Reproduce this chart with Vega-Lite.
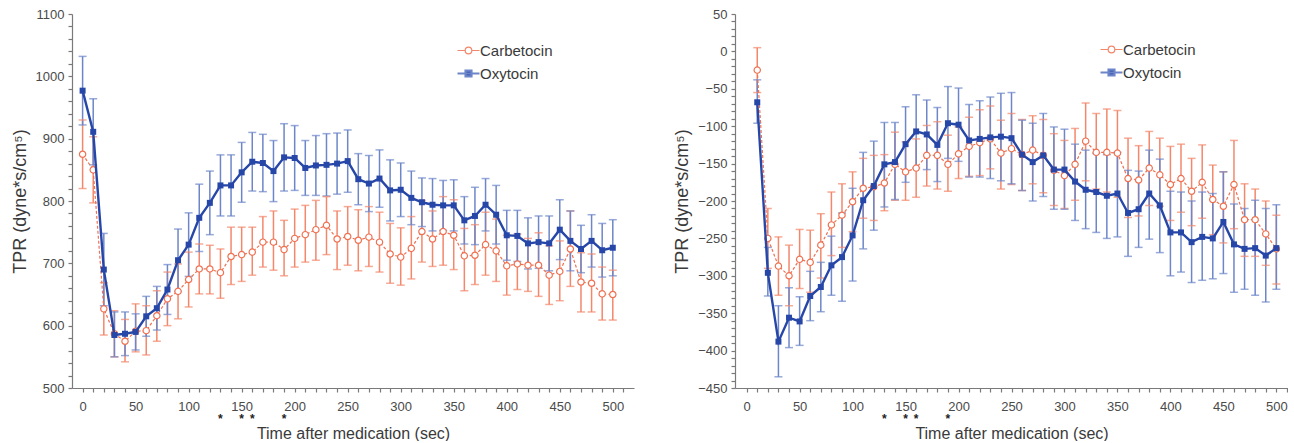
{
  "$schema": "https://vega.github.io/schema/vega-lite/v6.json",
  "background": "white",
  "padding": {"left": 11, "top": 8, "right": 0, "bottom": 0},
  "spacing": 39,
  "datasets": {
    "left": [
      {"drug": "Carbetocin", "t": 0, "mean": 875, "lo": 820, "hi": 930},
      {"drug": "Carbetocin", "t": 10, "mean": 850, "lo": 797, "hi": 903},
      {"drug": "Carbetocin", "t": 20, "mean": 627, "lo": 585, "hi": 669},
      {"drug": "Carbetocin", "t": 30, "mean": 587, "lo": 550, "hi": 624},
      {"drug": "Carbetocin", "t": 40, "mean": 575, "lo": 542, "hi": 610},
      {"drug": "Carbetocin", "t": 50, "mean": 591, "lo": 558, "hi": 635},
      {"drug": "Carbetocin", "t": 60, "mean": 592, "lo": 553, "hi": 632},
      {"drug": "Carbetocin", "t": 70, "mean": 616, "lo": 575, "hi": 656},
      {"drug": "Carbetocin", "t": 80, "mean": 643, "lo": 600, "hi": 686},
      {"drug": "Carbetocin", "t": 90, "mean": 655, "lo": 611, "hi": 699},
      {"drug": "Carbetocin", "t": 100, "mean": 674, "lo": 630, "hi": 718},
      {"drug": "Carbetocin", "t": 110, "mean": 691, "lo": 651, "hi": 731},
      {"drug": "Carbetocin", "t": 120, "mean": 691, "lo": 651, "hi": 729},
      {"drug": "Carbetocin", "t": 130, "mean": 685, "lo": 644, "hi": 723},
      {"drug": "Carbetocin", "t": 140, "mean": 711, "lo": 666, "hi": 758},
      {"drug": "Carbetocin", "t": 150, "mean": 714, "lo": 671, "hi": 758},
      {"drug": "Carbetocin", "t": 160, "mean": 718, "lo": 681, "hi": 758},
      {"drug": "Carbetocin", "t": 170, "mean": 734, "lo": 694, "hi": 775},
      {"drug": "Carbetocin", "t": 180, "mean": 734, "lo": 689, "hi": 784},
      {"drug": "Carbetocin", "t": 190, "mean": 722, "lo": 680, "hi": 769},
      {"drug": "Carbetocin", "t": 200, "mean": 740, "lo": 694, "hi": 787},
      {"drug": "Carbetocin", "t": 210, "mean": 746, "lo": 702, "hi": 793},
      {"drug": "Carbetocin", "t": 220, "mean": 754, "lo": 705, "hi": 801},
      {"drug": "Carbetocin", "t": 230, "mean": 761, "lo": 714, "hi": 807},
      {"drug": "Carbetocin", "t": 240, "mean": 739, "lo": 690, "hi": 784},
      {"drug": "Carbetocin", "t": 250, "mean": 743, "lo": 697, "hi": 791},
      {"drug": "Carbetocin", "t": 260, "mean": 737, "lo": 688, "hi": 786},
      {"drug": "Carbetocin", "t": 270, "mean": 742, "lo": 695, "hi": 791},
      {"drug": "Carbetocin", "t": 280, "mean": 734, "lo": 686, "hi": 782},
      {"drug": "Carbetocin", "t": 290, "mean": 715, "lo": 668, "hi": 764},
      {"drug": "Carbetocin", "t": 300, "mean": 710, "lo": 665, "hi": 757},
      {"drug": "Carbetocin", "t": 310, "mean": 724, "lo": 675, "hi": 775},
      {"drug": "Carbetocin", "t": 320, "mean": 751, "lo": 702, "hi": 801},
      {"drug": "Carbetocin", "t": 330, "mean": 739, "lo": 695, "hi": 784},
      {"drug": "Carbetocin", "t": 340, "mean": 751, "lo": 697, "hi": 807},
      {"drug": "Carbetocin", "t": 350, "mean": 745, "lo": 690, "hi": 802},
      {"drug": "Carbetocin", "t": 360, "mean": 712, "lo": 656, "hi": 756},
      {"drug": "Carbetocin", "t": 370, "mean": 713, "lo": 666, "hi": 762},
      {"drug": "Carbetocin", "t": 380, "mean": 730, "lo": 681, "hi": 782},
      {"drug": "Carbetocin", "t": 390, "mean": 720, "lo": 671, "hi": 771},
      {"drug": "Carbetocin", "t": 400, "mean": 696, "lo": 649, "hi": 745},
      {"drug": "Carbetocin", "t": 410, "mean": 699, "lo": 658, "hi": 747},
      {"drug": "Carbetocin", "t": 420, "mean": 697, "lo": 655, "hi": 740},
      {"drug": "Carbetocin", "t": 430, "mean": 697, "lo": 647, "hi": 749},
      {"drug": "Carbetocin", "t": 440, "mean": 681, "lo": 634, "hi": 728},
      {"drug": "Carbetocin", "t": 450, "mean": 687, "lo": 640, "hi": 736},
      {"drug": "Carbetocin", "t": 460, "mean": 723, "lo": 663, "hi": 784},
      {"drug": "Carbetocin", "t": 470, "mean": 670, "lo": 622, "hi": 717},
      {"drug": "Carbetocin", "t": 480, "mean": 668, "lo": 622, "hi": 715},
      {"drug": "Carbetocin", "t": 490, "mean": 651, "lo": 609, "hi": 694},
      {"drug": "Carbetocin", "t": 500, "mean": 650, "lo": 609, "hi": 689},
      {"drug": "Oxytocin", "t": 0, "mean": 977, "lo": 922, "hi": 1032},
      {"drug": "Oxytocin", "t": 10, "mean": 911, "lo": 858, "hi": 964},
      {"drug": "Oxytocin", "t": 20, "mean": 690, "lo": 632, "hi": 748},
      {"drug": "Oxytocin", "t": 30, "mean": 585, "lo": 550, "hi": 622},
      {"drug": "Oxytocin", "t": 40, "mean": 587, "lo": 552, "hi": 622},
      {"drug": "Oxytocin", "t": 50, "mean": 590, "lo": 561, "hi": 619},
      {"drug": "Oxytocin", "t": 60, "mean": 615, "lo": 583, "hi": 647},
      {"drug": "Oxytocin", "t": 70, "mean": 628, "lo": 593, "hi": 663},
      {"drug": "Oxytocin", "t": 80, "mean": 658, "lo": 618, "hi": 698},
      {"drug": "Oxytocin", "t": 90, "mean": 705, "lo": 655, "hi": 755},
      {"drug": "Oxytocin", "t": 100, "mean": 730, "lo": 679, "hi": 781},
      {"drug": "Oxytocin", "t": 110, "mean": 773, "lo": 719, "hi": 827},
      {"drug": "Oxytocin", "t": 120, "mean": 797, "lo": 746, "hi": 848},
      {"drug": "Oxytocin", "t": 130, "mean": 825, "lo": 776, "hi": 874},
      {"drug": "Oxytocin", "t": 140, "mean": 825, "lo": 776, "hi": 874},
      {"drug": "Oxytocin", "t": 150, "mean": 846, "lo": 798, "hi": 894},
      {"drug": "Oxytocin", "t": 160, "mean": 863, "lo": 816, "hi": 910},
      {"drug": "Oxytocin", "t": 170, "mean": 861, "lo": 815, "hi": 907},
      {"drug": "Oxytocin", "t": 180, "mean": 848, "lo": 799, "hi": 897},
      {"drug": "Oxytocin", "t": 190, "mean": 870, "lo": 816, "hi": 924},
      {"drug": "Oxytocin", "t": 200, "mean": 869, "lo": 817, "hi": 921},
      {"drug": "Oxytocin", "t": 210, "mean": 853, "lo": 809, "hi": 897},
      {"drug": "Oxytocin", "t": 220, "mean": 857, "lo": 809, "hi": 905},
      {"drug": "Oxytocin", "t": 230, "mean": 858, "lo": 808, "hi": 908},
      {"drug": "Oxytocin", "t": 240, "mean": 860, "lo": 811, "hi": 909},
      {"drug": "Oxytocin", "t": 250, "mean": 864, "lo": 814, "hi": 914},
      {"drug": "Oxytocin", "t": 260, "mean": 835, "lo": 794, "hi": 876},
      {"drug": "Oxytocin", "t": 270, "mean": 828, "lo": 783, "hi": 873},
      {"drug": "Oxytocin", "t": 280, "mean": 836, "lo": 790, "hi": 882},
      {"drug": "Oxytocin", "t": 290, "mean": 817, "lo": 768, "hi": 866},
      {"drug": "Oxytocin", "t": 300, "mean": 818, "lo": 775, "hi": 861},
      {"drug": "Oxytocin", "t": 310, "mean": 805, "lo": 762, "hi": 848},
      {"drug": "Oxytocin", "t": 320, "mean": 798, "lo": 759, "hi": 837},
      {"drug": "Oxytocin", "t": 330, "mean": 794, "lo": 752, "hi": 836},
      {"drug": "Oxytocin", "t": 340, "mean": 793, "lo": 753, "hi": 833},
      {"drug": "Oxytocin", "t": 350, "mean": 793, "lo": 752, "hi": 834},
      {"drug": "Oxytocin", "t": 360, "mean": 769, "lo": 731, "hi": 807},
      {"drug": "Oxytocin", "t": 370, "mean": 776, "lo": 730, "hi": 822},
      {"drug": "Oxytocin", "t": 380, "mean": 794, "lo": 752, "hi": 836},
      {"drug": "Oxytocin", "t": 390, "mean": 778, "lo": 731, "hi": 825},
      {"drug": "Oxytocin", "t": 400, "mean": 745, "lo": 705, "hi": 785},
      {"drug": "Oxytocin", "t": 410, "mean": 744, "lo": 703, "hi": 785},
      {"drug": "Oxytocin", "t": 420, "mean": 732, "lo": 691, "hi": 773},
      {"drug": "Oxytocin", "t": 430, "mean": 734, "lo": 692, "hi": 776},
      {"drug": "Oxytocin", "t": 440, "mean": 732, "lo": 688, "hi": 776},
      {"drug": "Oxytocin", "t": 450, "mean": 754, "lo": 706, "hi": 802},
      {"drug": "Oxytocin", "t": 460, "mean": 736, "lo": 688, "hi": 784},
      {"drug": "Oxytocin", "t": 470, "mean": 723, "lo": 685, "hi": 761},
      {"drug": "Oxytocin", "t": 480, "mean": 736, "lo": 694, "hi": 778},
      {"drug": "Oxytocin", "t": 490, "mean": 721, "lo": 678, "hi": 764},
      {"drug": "Oxytocin", "t": 500, "mean": 725, "lo": 680, "hi": 770}
    ],
    "right": [
      {"drug": "Carbetocin", "t": 10, "mean": -25, "lo": -55, "hi": 5},
      {"drug": "Carbetocin", "t": 20, "mean": -250, "lo": -290, "hi": -210},
      {"drug": "Carbetocin", "t": 30, "mean": -287, "lo": -326, "hi": -248},
      {"drug": "Carbetocin", "t": 40, "mean": -300, "lo": -340, "hi": -259},
      {"drug": "Carbetocin", "t": 50, "mean": -278, "lo": -317, "hi": -238},
      {"drug": "Carbetocin", "t": 60, "mean": -282, "lo": -322, "hi": -239},
      {"drug": "Carbetocin", "t": 70, "mean": -259, "lo": -303, "hi": -217},
      {"drug": "Carbetocin", "t": 80, "mean": -232, "lo": -273, "hi": -188},
      {"drug": "Carbetocin", "t": 90, "mean": -219, "lo": -262, "hi": -177},
      {"drug": "Carbetocin", "t": 100, "mean": -201, "lo": -241, "hi": -161},
      {"drug": "Carbetocin", "t": 110, "mean": -183, "lo": -223, "hi": -143},
      {"drug": "Carbetocin", "t": 120, "mean": -181, "lo": -226, "hi": -139},
      {"drug": "Carbetocin", "t": 130, "mean": -176, "lo": -213, "hi": -138},
      {"drug": "Carbetocin", "t": 140, "mean": -151, "lo": -199, "hi": -108},
      {"drug": "Carbetocin", "t": 150, "mean": -161, "lo": -199, "hi": -121},
      {"drug": "Carbetocin", "t": 160, "mean": -156, "lo": -195, "hi": -117},
      {"drug": "Carbetocin", "t": 170, "mean": -139, "lo": -180, "hi": -99},
      {"drug": "Carbetocin", "t": 180, "mean": -139, "lo": -184, "hi": -94},
      {"drug": "Carbetocin", "t": 190, "mean": -151, "lo": -187, "hi": -112},
      {"drug": "Carbetocin", "t": 200, "mean": -137, "lo": -170, "hi": -101},
      {"drug": "Carbetocin", "t": 210, "mean": -127, "lo": -167, "hi": -88},
      {"drug": "Carbetocin", "t": 220, "mean": -122, "lo": -166, "hi": -78},
      {"drug": "Carbetocin", "t": 230, "mean": -117, "lo": -157, "hi": -73},
      {"drug": "Carbetocin", "t": 240, "mean": -136, "lo": -184, "hi": -92},
      {"drug": "Carbetocin", "t": 250, "mean": -130, "lo": -178, "hi": -83},
      {"drug": "Carbetocin", "t": 260, "mean": -138, "lo": -186, "hi": -91},
      {"drug": "Carbetocin", "t": 270, "mean": -132, "lo": -177, "hi": -86},
      {"drug": "Carbetocin", "t": 280, "mean": -139, "lo": -189, "hi": -91},
      {"drug": "Carbetocin", "t": 290, "mean": -159, "lo": -206, "hi": -110},
      {"drug": "Carbetocin", "t": 300, "mean": -166, "lo": -210, "hi": -119},
      {"drug": "Carbetocin", "t": 310, "mean": -151, "lo": -199, "hi": -103},
      {"drug": "Carbetocin", "t": 320, "mean": -120, "lo": -173, "hi": -69},
      {"drug": "Carbetocin", "t": 330, "mean": -135, "lo": -184, "hi": -83},
      {"drug": "Carbetocin", "t": 340, "mean": -135, "lo": -188, "hi": -77},
      {"drug": "Carbetocin", "t": 350, "mean": -136, "lo": -195, "hi": -79},
      {"drug": "Carbetocin", "t": 360, "mean": -170, "lo": -222, "hi": -116},
      {"drug": "Carbetocin", "t": 370, "mean": -172, "lo": -220, "hi": -126},
      {"drug": "Carbetocin", "t": 380, "mean": -156, "lo": -206, "hi": -107},
      {"drug": "Carbetocin", "t": 390, "mean": -165, "lo": -207, "hi": -116},
      {"drug": "Carbetocin", "t": 400, "mean": -178, "lo": -226, "hi": -127},
      {"drug": "Carbetocin", "t": 410, "mean": -170, "lo": -215, "hi": -124},
      {"drug": "Carbetocin", "t": 420, "mean": -187, "lo": -233, "hi": -143},
      {"drug": "Carbetocin", "t": 430, "mean": -175, "lo": -223, "hi": -125},
      {"drug": "Carbetocin", "t": 440, "mean": -198, "lo": -245, "hi": -152},
      {"drug": "Carbetocin", "t": 450, "mean": -207, "lo": -256, "hi": -161},
      {"drug": "Carbetocin", "t": 460, "mean": -178, "lo": -237, "hi": -119},
      {"drug": "Carbetocin", "t": 470, "mean": -225, "lo": -274, "hi": -177},
      {"drug": "Carbetocin", "t": 480, "mean": -225, "lo": -274, "hi": -184},
      {"drug": "Carbetocin", "t": 490, "mean": -244, "lo": -286, "hi": -200},
      {"drug": "Carbetocin", "t": 500, "mean": -264, "lo": -311, "hi": -219},
      {"drug": "Oxytocin", "t": 10, "mean": -68, "lo": -96, "hi": -38},
      {"drug": "Oxytocin", "t": 20, "mean": -296, "lo": -327, "hi": -262},
      {"drug": "Oxytocin", "t": 30, "mean": -388, "lo": -435, "hi": -340},
      {"drug": "Oxytocin", "t": 40, "mean": -356, "lo": -396, "hi": -316},
      {"drug": "Oxytocin", "t": 50, "mean": -361, "lo": -393, "hi": -328},
      {"drug": "Oxytocin", "t": 60, "mean": -327, "lo": -360, "hi": -294},
      {"drug": "Oxytocin", "t": 70, "mean": -315, "lo": -348, "hi": -282},
      {"drug": "Oxytocin", "t": 80, "mean": -286, "lo": -326, "hi": -247},
      {"drug": "Oxytocin", "t": 90, "mean": -275, "lo": -334, "hi": -216},
      {"drug": "Oxytocin", "t": 100, "mean": -246, "lo": -307, "hi": -183},
      {"drug": "Oxytocin", "t": 110, "mean": -199, "lo": -264, "hi": -135},
      {"drug": "Oxytocin", "t": 120, "mean": -180, "lo": -239, "hi": -120},
      {"drug": "Oxytocin", "t": 130, "mean": -151, "lo": -208, "hi": -95},
      {"drug": "Oxytocin", "t": 140, "mean": -148, "lo": -198, "hi": -95},
      {"drug": "Oxytocin", "t": 150, "mean": -124, "lo": -175, "hi": -74},
      {"drug": "Oxytocin", "t": 160, "mean": -107, "lo": -156, "hi": -58},
      {"drug": "Oxytocin", "t": 170, "mean": -111, "lo": -158, "hi": -65},
      {"drug": "Oxytocin", "t": 180, "mean": -125, "lo": -174, "hi": -75},
      {"drug": "Oxytocin", "t": 190, "mean": -96, "lo": -143, "hi": -47},
      {"drug": "Oxytocin", "t": 200, "mean": -98, "lo": -147, "hi": -49},
      {"drug": "Oxytocin", "t": 210, "mean": -119, "lo": -168, "hi": -71},
      {"drug": "Oxytocin", "t": 220, "mean": -117, "lo": -168, "hi": -66},
      {"drug": "Oxytocin", "t": 230, "mean": -115, "lo": -170, "hi": -61},
      {"drug": "Oxytocin", "t": 240, "mean": -114, "lo": -173, "hi": -56},
      {"drug": "Oxytocin", "t": 250, "mean": -116, "lo": -177, "hi": -55},
      {"drug": "Oxytocin", "t": 260, "mean": -138, "lo": -186, "hi": -92},
      {"drug": "Oxytocin", "t": 270, "mean": -148, "lo": -200, "hi": -96},
      {"drug": "Oxytocin", "t": 280, "mean": -139, "lo": -194, "hi": -83},
      {"drug": "Oxytocin", "t": 290, "mean": -158, "lo": -211, "hi": -101},
      {"drug": "Oxytocin", "t": 300, "mean": -158, "lo": -211, "hi": -104},
      {"drug": "Oxytocin", "t": 310, "mean": -174, "lo": -226, "hi": -124},
      {"drug": "Oxytocin", "t": 320, "mean": -185, "lo": -237, "hi": -132},
      {"drug": "Oxytocin", "t": 330, "mean": -188, "lo": -242, "hi": -136},
      {"drug": "Oxytocin", "t": 340, "mean": -193, "lo": -250, "hi": -138},
      {"drug": "Oxytocin", "t": 350, "mean": -190, "lo": -248, "hi": -135},
      {"drug": "Oxytocin", "t": 360, "mean": -216, "lo": -274, "hi": -159},
      {"drug": "Oxytocin", "t": 370, "mean": -211, "lo": -262, "hi": -160},
      {"drug": "Oxytocin", "t": 380, "mean": -190, "lo": -251, "hi": -132},
      {"drug": "Oxytocin", "t": 390, "mean": -206, "lo": -269, "hi": -144},
      {"drug": "Oxytocin", "t": 400, "mean": -242, "lo": -300, "hi": -187},
      {"drug": "Oxytocin", "t": 410, "mean": -242, "lo": -295, "hi": -188},
      {"drug": "Oxytocin", "t": 420, "mean": -255, "lo": -309, "hi": -200},
      {"drug": "Oxytocin", "t": 430, "mean": -248, "lo": -306, "hi": -188},
      {"drug": "Oxytocin", "t": 440, "mean": -250, "lo": -304, "hi": -190},
      {"drug": "Oxytocin", "t": 450, "mean": -228, "lo": -297, "hi": -161},
      {"drug": "Oxytocin", "t": 460, "mean": -258, "lo": -322, "hi": -204},
      {"drug": "Oxytocin", "t": 470, "mean": -264, "lo": -318, "hi": -210},
      {"drug": "Oxytocin", "t": 480, "mean": -263, "lo": -326, "hi": -199},
      {"drug": "Oxytocin", "t": 490, "mean": -273, "lo": -335, "hi": -210},
      {"drug": "Oxytocin", "t": 500, "mean": -263, "lo": -318, "hi": -205}
    ],
    "stars": [{"t": 130, "s": "*"}, {"t": 150, "s": "*"}, {"t": 160, "s": "*"}, {"t": 190, "s": "*"}]
  },
  "hconcat": [
    {
      "width": 562,
      "height": 374,
      "data": {"name": "left"},
      "layer": [
        {
          "mark": {"type": "rule", "strokeWidth": 1.5},
          "encoding": {
            "x": {"field": "t", "type": "quantitative",
              "scale": {"domain": [-10, 520], "nice": false, "zero": false},
              "axis": {"title": "Time after medication (sec)", "format": "d", "labelOverlap": false, "labelBound": false, "labelFlush": false, "tickCount": 500,
                "values": [0,10,20,30,40,50,60,70,80,90,100,110,120,130,140,150,160,170,180,190,200,210,220,230,240,250,260,270,280,290,300,310,320,330,340,350,360,370,380,390,400,410,420,430,440,450,460,470,480,490,500,510],
                "labelExpr": "datum.value % 50 === 0 ? datum.label : ''"}},
            "y": {"field": "lo", "type": "quantitative",
              "scale": {"domain": [500, 1100], "nice": false, "zero": false},
              "axis": {"title": "TPR (dyne*s/cm⁵)", "format": "d", "labelOverlap": false, "labelBound": false, "labelFlush": false, "tickCount": 500,
                "values": [500,520,540,560,580,600,620,640,660,680,700,720,740,760,780,800,820,840,860,880,900,920,940,960,980,1000,1020,1040,1060,1080,1100],
                "labelExpr": "datum.value % 100 === 0 ? datum.label : ''"}},
            "y2": {"field": "hi"},
            "color": {"field": "drug", "type": "nominal",
              "scale": {"domain": ["Carbetocin", "Oxytocin"], "range": ["#f3876b", "#6c86c9"]},
              "legend": {"orient": "none", "legendX": 389, "legendY": 29, "title": null, "padding": 0,
                "symbolSize": 484, "labelFontSize": 15, "labelColor": "#3a3a3a", "rowPadding": 7, "labelOffset": 4,
                "encode": {"symbols": {"update": {
                  "shape": {"signal": "datum.value === 'Carbetocin' ? 'M-1,0H-0.33M0.33,0H1M-0.3,0A0.3,0.3 0 1,0 0.3,0A0.3,0.3 0 1,0 -0.3,0' : 'M-1,0H1M-0.27,-0.27H0.27V0.27H-0.27Z'"},
                  "size": {"value": 484},
                  "stroke": {"signal": "datum.value === 'Carbetocin' ? '#ef7152' : '#2747a8'"},
                  "fill": {"signal": "datum.value === 'Carbetocin' ? '#ffffff' : '#2747a8'"},
                  "strokeWidth": {"signal": "datum.value === 'Carbetocin' ? 1.2 : 2.2"},
                  "opacity": {"value": 1}, "fillOpacity": {"value": 1}, "strokeOpacity": {"value": 1}}}}}}
          }
        },
        {
          "mark": {"type": "tick", "orient": "horizontal", "size": 8, "thickness": 1.5},
          "encoding": {
            "x": {"field": "t", "type": "quantitative"},
            "y": {"field": "lo", "type": "quantitative"},
            "color": {"condition": {"test": "datum.drug === 'Oxytocin'", "value": "#6c86c9"}, "value": "#f3876b"}
          }
        },
        {
          "mark": {"type": "tick", "orient": "horizontal", "size": 8, "thickness": 1.5},
          "encoding": {
            "x": {"field": "t", "type": "quantitative"},
            "y": {"field": "hi", "type": "quantitative"},
            "color": {"condition": {"test": "datum.drug === 'Oxytocin'", "value": "#6c86c9"}, "value": "#f3876b"}
          }
        },
        {
          "transform": [{"filter": "datum.drug === 'Carbetocin'"}],
          "mark": {"type": "line", "color": "#ef7152", "strokeWidth": 1.2, "strokeDash": [3, 2]},
          "encoding": {"x": {"field": "t", "type": "quantitative"}, "y": {"field": "mean", "type": "quantitative"}}
        },
        {
          "transform": [{"filter": "datum.drug === 'Carbetocin'"}],
          "mark": {"type": "point", "shape": "circle", "filled": false, "fill": "#ffffff", "fillOpacity": 1, "stroke": "#ef7152", "strokeWidth": 1.2, "size": 40, "opacity": 1},
          "encoding": {"x": {"field": "t", "type": "quantitative"}, "y": {"field": "mean", "type": "quantitative"}}
        },
        {
          "transform": [{"filter": "datum.drug === 'Oxytocin'"}],
          "mark": {"type": "line", "color": "#2747a8", "strokeWidth": 2.4},
          "encoding": {"x": {"field": "t", "type": "quantitative"}, "y": {"field": "mean", "type": "quantitative"}}
        },
        {
          "transform": [{"filter": "datum.drug === 'Oxytocin'"}],
          "mark": {"type": "point", "shape": "square", "filled": true, "color": "#2747a8", "size": 36, "opacity": 1},
          "encoding": {"x": {"field": "t", "type": "quantitative"}, "y": {"field": "mean", "type": "quantitative"}}
        },
        {
          "data": {"name": "stars"},
          "mark": {"type": "text", "fontSize": 12, "fontWeight": "bold", "baseline": "middle", "dy": 31, "color": "#222"},
          "encoding": {"x": {"field": "t", "type": "quantitative"}, "y": {"value": "height"}, "text": {"field": "s"}}
        }
      ]
    },
    {
      "width": 553,
      "height": 374,
      "data": {"name": "right"},
      "layer": [
        {
          "mark": {"type": "rule", "strokeWidth": 1.5},
          "encoding": {
            "x": {"field": "t", "type": "quantitative",
              "scale": {"domain": [-11, 511], "nice": false, "zero": false},
              "axis": {"title": "Time after medication (sec)", "format": "d", "labelOverlap": false, "labelBound": false, "labelFlush": false, "tickCount": 500,
                "values": [0,10,20,30,40,50,60,70,80,90,100,110,120,130,140,150,160,170,180,190,200,210,220,230,240,250,260,270,280,290,300,310,320,330,340,350,360,370,380,390,400,410,420,430,440,450,460,470,480,490,500,510],
                "labelExpr": "datum.value % 50 === 0 ? datum.label : ''"}},
            "y": {"field": "lo", "type": "quantitative",
              "scale": {"domain": [-450, 50], "nice": false, "zero": false},
              "axis": {"title": "TPR (dyne*s/cm⁵)", "format": "d", "labelOverlap": false, "labelBound": false, "labelFlush": false, "tickCount": 500,
                "values": [-450,-440,-430,-420,-410,-400,-390,-380,-370,-360,-350,-340,-330,-320,-310,-300,-290,-280,-270,-260,-250,-240,-230,-220,-210,-200,-190,-180,-170,-160,-150,-140,-130,-120,-110,-100,-90,-80,-70,-60,-50,-40,-30,-20,-10,0,10,20,30,40,50],
                "labelExpr": "datum.value % 50 === 0 ? datum.label : ''"}},
            "y2": {"field": "hi"},
            "color": {"field": "drug", "type": "nominal",
              "scale": {"domain": ["Carbetocin", "Oxytocin"], "range": ["#f3876b", "#6c86c9"]},
              "legend": {"orient": "none", "legendX": 369, "legendY": 28, "title": null, "padding": 0,
                "symbolSize": 484, "labelFontSize": 15, "labelColor": "#3a3a3a", "rowPadding": 7, "labelOffset": 4,
                "encode": {"symbols": {"update": {
                  "shape": {"signal": "datum.value === 'Carbetocin' ? 'M-1,0H-0.33M0.33,0H1M-0.3,0A0.3,0.3 0 1,0 0.3,0A0.3,0.3 0 1,0 -0.3,0' : 'M-1,0H1M-0.27,-0.27H0.27V0.27H-0.27Z'"},
                  "size": {"value": 484},
                  "stroke": {"signal": "datum.value === 'Carbetocin' ? '#ef7152' : '#2747a8'"},
                  "fill": {"signal": "datum.value === 'Carbetocin' ? '#ffffff' : '#2747a8'"},
                  "strokeWidth": {"signal": "datum.value === 'Carbetocin' ? 1.2 : 2.2"},
                  "opacity": {"value": 1}, "fillOpacity": {"value": 1}, "strokeOpacity": {"value": 1}}}}}}
          }
        },
        {
          "mark": {"type": "tick", "orient": "horizontal", "size": 8, "thickness": 1.5},
          "encoding": {
            "x": {"field": "t", "type": "quantitative"},
            "y": {"field": "lo", "type": "quantitative"},
            "color": {"condition": {"test": "datum.drug === 'Oxytocin'", "value": "#6c86c9"}, "value": "#f3876b"}
          }
        },
        {
          "mark": {"type": "tick", "orient": "horizontal", "size": 8, "thickness": 1.5},
          "encoding": {
            "x": {"field": "t", "type": "quantitative"},
            "y": {"field": "hi", "type": "quantitative"},
            "color": {"condition": {"test": "datum.drug === 'Oxytocin'", "value": "#6c86c9"}, "value": "#f3876b"}
          }
        },
        {
          "transform": [{"filter": "datum.drug === 'Carbetocin'"}],
          "mark": {"type": "line", "color": "#ef7152", "strokeWidth": 1.2, "strokeDash": [3, 2]},
          "encoding": {"x": {"field": "t", "type": "quantitative"}, "y": {"field": "mean", "type": "quantitative"}}
        },
        {
          "transform": [{"filter": "datum.drug === 'Carbetocin'"}],
          "mark": {"type": "point", "shape": "circle", "filled": false, "fill": "#ffffff", "fillOpacity": 1, "stroke": "#ef7152", "strokeWidth": 1.2, "size": 40, "opacity": 1},
          "encoding": {"x": {"field": "t", "type": "quantitative"}, "y": {"field": "mean", "type": "quantitative"}}
        },
        {
          "transform": [{"filter": "datum.drug === 'Oxytocin'"}],
          "mark": {"type": "line", "color": "#2747a8", "strokeWidth": 2.4},
          "encoding": {"x": {"field": "t", "type": "quantitative"}, "y": {"field": "mean", "type": "quantitative"}}
        },
        {
          "transform": [{"filter": "datum.drug === 'Oxytocin'"}],
          "mark": {"type": "point", "shape": "square", "filled": true, "color": "#2747a8", "size": 36, "opacity": 1},
          "encoding": {"x": {"field": "t", "type": "quantitative"}, "y": {"field": "mean", "type": "quantitative"}}
        },
        {
          "data": {"name": "stars"},
          "mark": {"type": "text", "fontSize": 12, "fontWeight": "bold", "baseline": "middle", "dy": 31, "color": "#222"},
          "encoding": {"x": {"field": "t", "type": "quantitative"}, "y": {"value": "height"}, "text": {"field": "s"}}
        }
      ]
    }
  ],
  "resolve": {"scale": {"color": "independent"}, "legend": {"color": "independent"}},
  "config": {
    "view": {"stroke": null},
    "font": "Liberation Sans",
    "axis": {
      "grid": false,
      "domainColor": "#7a7a7a",
      "domainWidth": 1.2,
      "tickColor": "#7a7a7a",
      "tickWidth": 1.2,
      "tickSize": 4,
      "labelFont": "Liberation Sans",
      "labelFontSize": 13,
      "labelColor": "#4a4a4a",
      "labelPadding": 4,
      "titleFont": "Liberation Sans",
      "titleFontWeight": "normal",
      "titleColor": "#3a3a3a"
    },
    "axisX": {"titleFontSize": 16, "titlePadding": 12, "labelPadding": 8},
    "axisY": {"titleFontSize": 18, "titlePadding": 6},
    "legend": {"labelFont": "Liberation Sans"}
  }
}
